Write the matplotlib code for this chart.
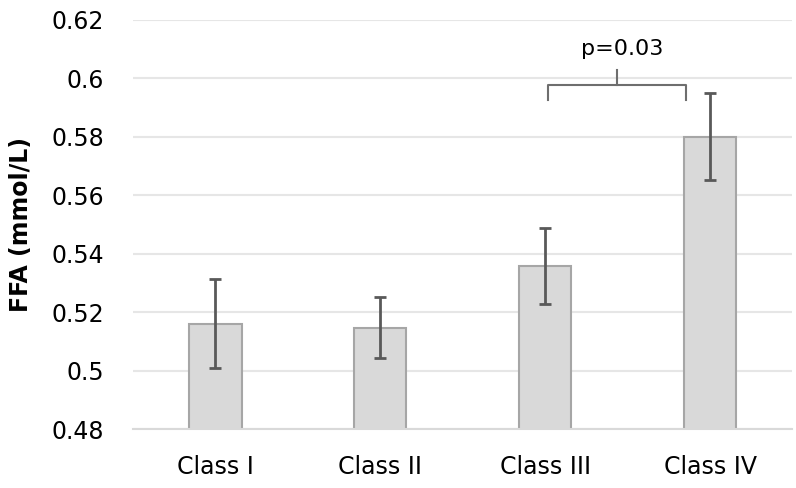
"""
FFA by class, bar chart with error bars and a significance bracket.
"""

import numpy as np
from matplotlib import pyplot

# Data.
classes = ['Class I', 'Class II', 'Class III', 'Class IV']
ffa_mean = [0.516, 0.5147, 0.5356, 0.580]  # mmol/L
ffa_err = [0.0152, 0.0103, 0.013, 0.015]
yticks = [0.48, 0.5, 0.52, 0.54, 0.56, 0.58, 0.6, 0.62]
ytick_labels = ['0.48', '0.5', '0.52', '0.54', '0.56', '0.58', '0.6', '0.62']
pair = (2, 3)  # Class III vs Class IV
p_label = 'p=0.03'

pyplot.rc('font', family='DejaVu Sans', size=17)
fig = pyplot.figure(figsize=(7.96, 4.88), dpi=100)
ax = fig.add_axes([0.1671, 0.1209, 0.8285, 0.8391])

x = np.arange(len(classes))
ax.bar(x, ffa_mean, width=0.317, color='#d9d9d9', edgecolor='#a6a6a6',
       linewidth=1.5, zorder=2)
ax.errorbar(x, ffa_mean, yerr=ffa_err, fmt='none', ecolor='#595959',
            elinewidth=2.0, capsize=4.5, capthick=2.0, zorder=3)

# Significance bracket between the two compared classes.
i, j = pair
y_bar, y_end, y_tip = 0.5976, 0.5924, 0.6026
xl, xr = x[i] + 0.02, x[j] - 0.145
xm = 0.5 * (xl + xr)
ax.plot([xl, xl, xr, xr], [y_end, y_bar, y_bar, y_end], color='#6e6e6e',
        linewidth=1.5, zorder=3)
ax.plot([xm, xm], [y_bar, y_tip], color='#6e6e6e', linewidth=1.5, zorder=3)
ax.text(xm + 0.027, 0.6098, p_label, ha='center', va='center', fontsize=16,
        color='black')

ax.set_xlim(-0.5, 3.5)
ax.set_ylim(0.48, 0.62)
ax.set_xticks(x)
ax.set_xticklabels(classes)
ax.set_yticks(yticks)
ax.set_yticklabels(ytick_labels)
ax.tick_params(axis='y', length=0, pad=21, colors='black')
ax.tick_params(axis='x', length=0, pad=19, colors='black')
ax.set_ylabel('FFA (mmol/L)', fontweight='bold', fontsize=17, labelpad=13)

ax.grid(axis='y', color='#e6e6e6', linewidth=1.5)
ax.set_axisbelow(True)
for side in ['top', 'right', 'left']:
    ax.spines[side].set_visible(False)
ax.spines['bottom'].set_color('#d9d9d9')
ax.spines['bottom'].set_linewidth(1.5)

fig.savefig('out.png', dpi=100)
